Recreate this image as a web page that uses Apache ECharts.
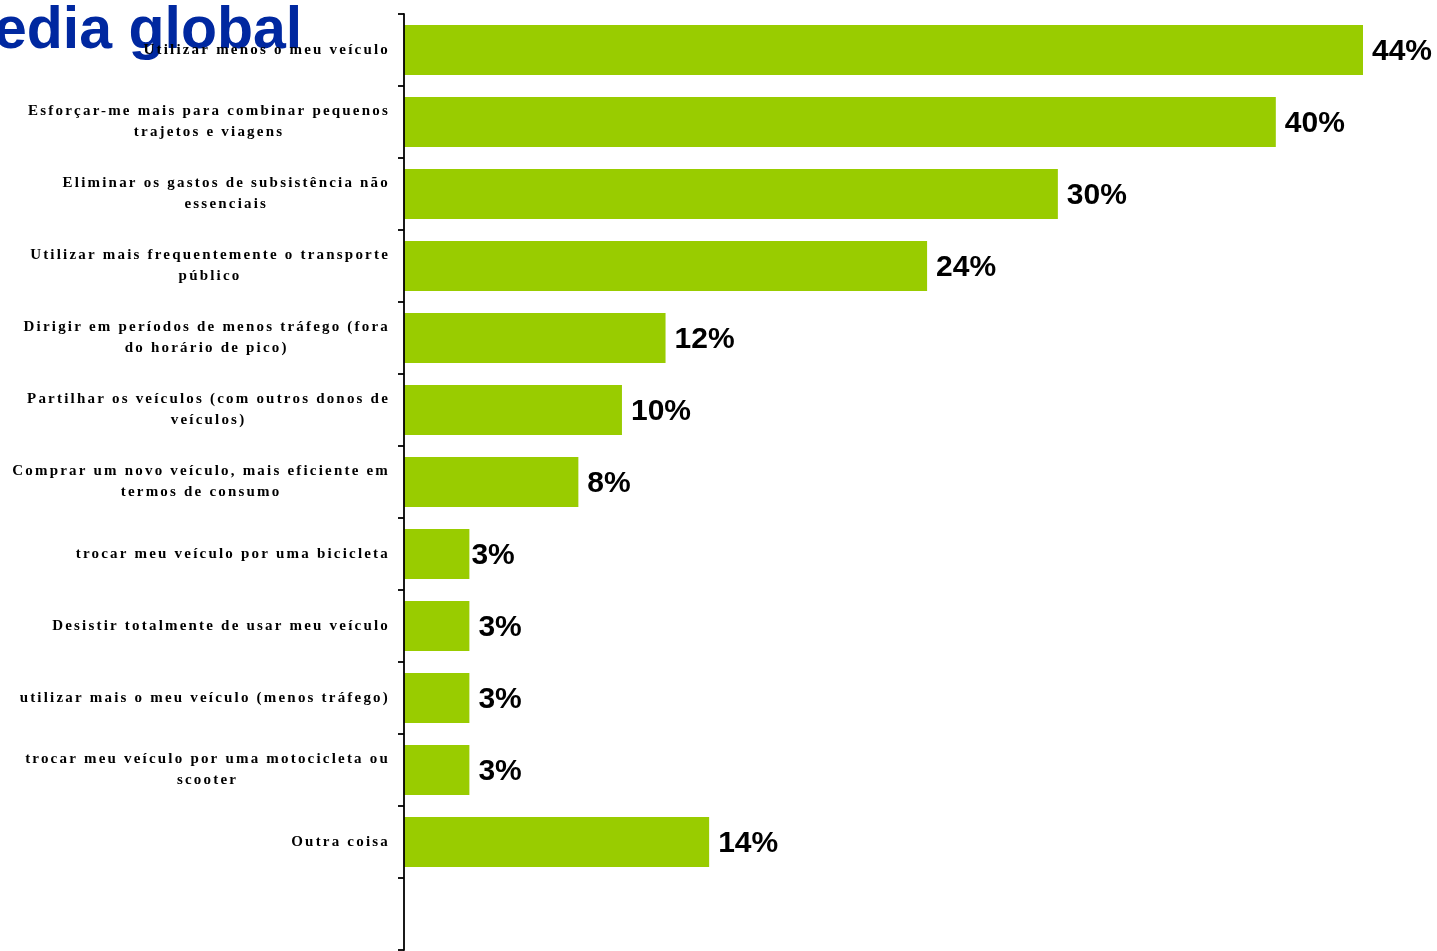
<!DOCTYPE html>
<html>
<head>
<meta charset="utf-8">
<script src="https://cdn.jsdelivr.net/npm/echarts@6/dist/echarts.min.js"></script>
<style>
html,body{margin:0;padding:0;background:#fff;}
#chart{width:1437px;height:951px;}
</style>
</head>
<body>
<div id="chart"></div>
<script>
// ---- data ----
const titleText = 'edia global';
const categories = [
  'Utilizar menos o meu veículo',
  'Esforçar-me mais para combinar pequenos\ntrajetos e viagens',
  'Eliminar os gastos de subsistência não\nessenciais',
  'Utilizar mais frequentemente o transporte\npúblico',
  'Dirigir em períodos de menos tráfego (fora\ndo horário de pico)',
  'Partilhar os veículos (com outros donos de\nveículos)',
  'Comprar um novo veículo, mais eficiente em\ntermos de consumo',
  'trocar meu veículo por uma bicicleta',
  'Desistir totalmente de usar meu veículo',
  'utilizar mais o meu veículo (menos tráfego)',
  'trocar meu veículo por uma motocicleta ou\nscooter',
  'Outra coisa',
  ''
];
const values = [44, 40, 30, 24, 12, 10, 8, 3, 3, 3, 3, 14, null];

// letter-spaced serif labels (canvas letterSpacing tied to the serif font)
(function(){
  const proto = CanvasRenderingContext2D.prototype;
  const d = Object.getOwnPropertyDescriptor(proto, 'font');
  if (!d || !('letterSpacing' in proto)) return;
  Object.defineProperty(proto, 'font', {
    configurable: true,
    get(){ return d.get.call(this); },
    set(v){ d.set.call(this, v); this.letterSpacing = /Serif/.test(v) ? '2.2px' : '0px'; }
  });
})();

const chart = echarts.init(document.getElementById('chart'), null, {renderer: 'canvas'});
const seriesData = values.map((v, i) => {
  if (v == null) return null;
  const item = {value: v};
  if (i === 7) item.label = {distance: 2};
  return item;
});
chart.setOption({
  animation: false,
  backgroundColor: '#fff',
  title: {
    text: titleText,
    left: -6,
    top: 2,
    padding: 0,
    z: 0,
    textStyle: {
      fontFamily: 'Liberation Sans',
      fontWeight: 'bold',
      fontSize: 59,
      color: '#0028A0'
    }
  },
  grid: {
    left: 404,
    top: 14,
    width: 959,
    height: 936,
    containLabel: false,
    outerBoundsMode: 'none'
  },
  xAxis: {
    type: 'value',
    min: 0,
    max: 44,
    show: false
  },
  yAxis: {
    type: 'category',
    inverse: true,
    z: 10,
    data: categories,
    axisLine: {show: true, lineStyle: {color: '#000', width: 1.8}},
    axisTick: {show: true, length: 6, lineStyle: {color: '#000', width: 1.8}},
    splitLine: {show: false},
    axisLabel: {
      margin: 14,
      align: 'right',
      interval: 0,
      formatter: function (val) {
        return val.split('\n').map(s => '{c|' + s + '}').join('\n');
      },
      rich: {
        c: {
          align: 'center',
          fontFamily: 'Liberation Serif',
          fontWeight: 'bold',
          fontSize: 15,
          lineHeight: 21,
          color: '#000'
        }
      }
    }
  },
  series: [{
    type: 'bar',
    data: seriesData,
    barWidth: 50,
    itemStyle: {color: '#99CC00'},
    label: {
      show: true,
      position: 'right',
      distance: 9,
      offset: [0, 2],
      formatter: '{c}%',
      fontFamily: 'Liberation Sans',
      fontWeight: 'bold',
      fontSize: 30,
      color: '#000'
    }
  }]
});
</script>
</body>
</html>
